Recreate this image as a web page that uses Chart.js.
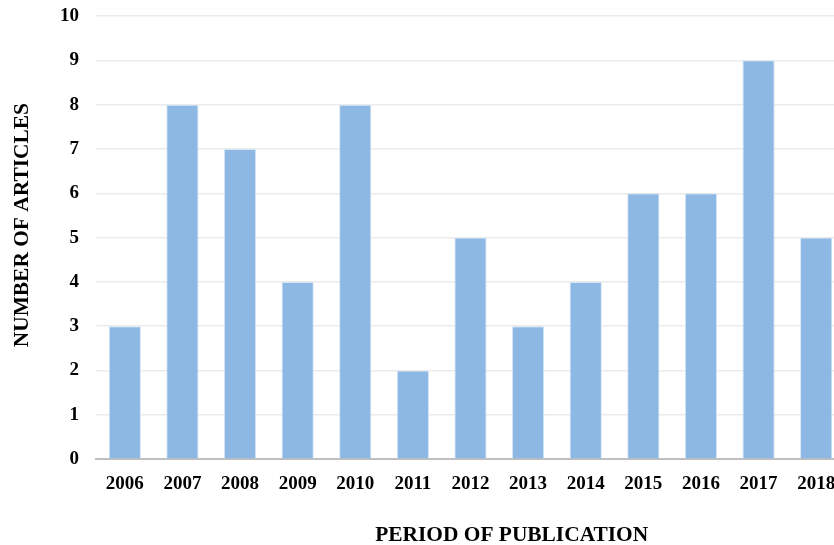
<!DOCTYPE html>
<html><head><meta charset="utf-8">
<script src="https://cdn.jsdelivr.net/npm/chart.js@4/dist/chart.umd.min.js"></script>
<style>
html,body{margin:0;padding:0;overflow:hidden;background:#fff;}
#wrap{width:834px;height:545px;overflow:hidden;}
#box{width:845px;height:545px;}
</style></head>
<body>
<div id="wrap"><div id="box"><canvas id="c" width="845" height="545"></canvas></div></div>
<script>
const years = ['2006','2007','2008','2009','2010','2011','2012','2013','2014','2015','2016','2017','2018'];
const articles = [3,8,7,4,8,2,5,3,4,6,6,9,5];
const yTicks = [0,1,2,3,4,5,6,7,8,9,10];
const xTitle = 'PERIOD OF PUBLICATION';
const yTitle = 'NUMBER OF ARTICLES';

const FAM = '"Liberation Serif","Times New Roman",serif';
const font = {family:FAM, weight:'bold', size:19};

const axisTitles = {
  id:'axisTitles',
  afterDraw(chart){
    const {ctx, chartArea:a} = chart;
    ctx.save();
    ctx.fillStyle = '#000';
    ctx.font = 'bold 21.4px ' + FAM;
    ctx.textAlign = 'center';
    ctx.textBaseline = 'middle';
    ctx.fillText(xTitle, a.left + 0.555*(a.right - a.left), 535);
    ctx.translate(22, a.top + 0.472*(a.bottom - a.top));
    ctx.rotate(-Math.PI/2);
    ctx.fillText(yTitle, 0, 0);
    ctx.restore();
  }
};

new Chart(document.getElementById('c'), {
  type:'bar',
  data:{labels:years, datasets:[{data:articles, backgroundColor:'#8DB8E3', borderColor:'#D6E6F6', borderWidth:1, categoryPercentage:1, barPercentage:0.56}]},
  plugins:[axisTitles],
  options:{
    responsive:false, animation:false, devicePixelRatio:1,
    layout:{padding:{top:16,left:43,right:0,bottom:37}},
    plugins:{legend:{display:false}, tooltip:{enabled:false}},
    scales:{
      x:{
        afterFit:(s)=>{s.paddingLeft=0; s.paddingRight=0;},
        grid:{display:false, drawTicks:false},
        border:{display:true, color:'#BFBFBF', width:2},
        ticks:{color:'#000', font:font, padding:13},
        title:{display:false}
      },
      y:{
        min:0, max:10,
        afterFit:(s)=>{s.paddingTop=0; s.paddingBottom=0;},
        afterBuildTicks:(ax)=>{ax.ticks = yTicks.map(v=>({value:v}));},
        grid:{color:'#EBEBEB', lineWidth:1.5, drawTicks:false},
        border:{display:false},
        ticks:{color:'#000', font:font, padding:17},
        title:{display:false}
      }
    }
  }
});
</script>
</body></html>
